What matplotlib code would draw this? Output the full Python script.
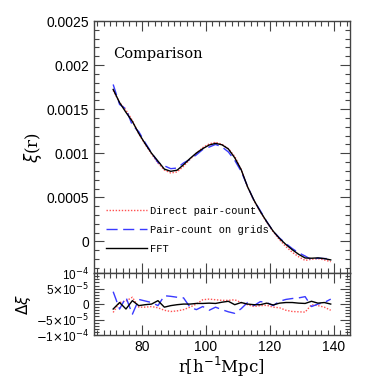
import matplotlib
matplotlib.use("Agg")
import matplotlib.pyplot as plt
import numpy as np

# separations (h^-1 Mpc)
r = [71, 73, 75, 77, 79, 81, 83, 85, 87, 89, 91, 93, 95, 97, 99, 101, 103,
     105, 107, 109, 111, 113, 115, 117, 119, 121, 123, 125, 127, 129, 131,
     133, 135, 137, 139]

# smooth correlation function
xi_base = [0.00174, 0.00157, 0.00148, 0.00135, 0.00123, 0.00111, 0.00100,
           0.00090, 0.00083, 0.00080, 0.00081, 0.00087, 0.00094, 0.00100,
           0.00105, 0.00109, 0.00111, 0.00109, 0.00104, 0.00095, 0.00081,
           0.00062, 0.00047, 0.00034, 0.00022, 0.00012, 0.00003, -0.00004,
           -0.00010, -0.00015, -0.00019, -0.00020, -0.00019, -0.00020,
           -0.00021]

# residuals (units of 1e-4)
d_direct = [-0.27, 0.05, 0.10, 0.22, -0.10, -0.10, -0.08, -0.12, -0.20, -0.24,
            -0.22, -0.18, -0.10, 0.00, 0.14, 0.16, 0.14, 0.12, 0.12, 0.14,
            0.05, -0.02, -0.08, -0.05, -0.04, -0.10, -0.12, -0.20, -0.24,
            -0.25, -0.26, -0.02, -0.05, -0.10, -0.20]
d_grid = [0.40, -0.16, 0.22, -0.33, 0.15, 0.10, 0.05, -0.05, 0.27, 0.25,
          0.22, 0.20, -0.10, -0.18, -0.08, -0.20, -0.10, -0.18, -0.25, -0.30,
          -0.15, 0.05, -0.05, 0.08, 0.05, -0.05, 0.09, 0.15, 0.18, 0.20,
          0.24, -0.08, 0.00, 0.05, 0.16]
d_fft = [-0.16, 0.05, -0.16, 0.11, -0.05, -0.02, 0.00, 0.11, -0.10, -0.05,
         -0.02, 0.00, 0.00, 0.02, 0.02, 0.03, 0.02, 0.06, 0.09, -0.02, 0.05,
         0.00, -0.02, -0.02, 0.03, -0.03, 0.03, 0.05, 0.05, 0.03, 0.02, 0.09,
         0.03, 0.05, 0.00]

labels = ['Direct pair-count', 'Pair-count on grids', 'FFT']
colors = ['#ff5050', '#3a3aff', 'black']
styles = [(0, (1, 1.2)), (0, (8, 4)), '-']

r = np.array(r)
xi_base = np.array(xi_base)
resid = [np.array(d) * 1e-4 for d in (d_direct, d_grid, d_fft)]

serif = 'DejaVu Serif'
plt.rcParams['font.family'] = 'Liberation Sans'
axcol = '#444444'

fig = plt.figure(figsize=(3.82, 3.82), dpi=100)
ax1 = fig.add_axes([0.246, 0.285, 0.670, 0.660])
ax2 = fig.add_axes([0.246, 0.123, 0.670, 0.162])

for d, lab, c, ls in zip(resid, labels, colors, styles):
    ax1.plot(r, xi_base + d, color=c, ls=ls, lw=1.0, label=lab)
    ax2.plot(r, d, color=c, ls=ls, lw=1.0)

for ax in (ax1, ax2):
    ax.set_xlim(65, 145)
    ax.set_xticks([80, 100, 120, 140])
    ax.set_xticks(np.arange(66, 145, 2), minor=True)
    ax.tick_params(which='both', direction='in', top=True, right=True,
                   color=axcol, labelsize=10, width=0.8)
    ax.tick_params(which='major', length=7)
    ax.tick_params(which='minor', length=3.5)
    for s in ax.spines.values():
        s.set_color(axcol)
        s.set_linewidth(1.0)

ax1.set_ylim(-0.00036, 0.0025)
ax1.set_yticks([0, 0.0005, 0.001, 0.0015, 0.002, 0.0025])
ax1.set_yticklabels(['0', '0.0005', '0.001', '0.0015', '0.002', '0.0025'])
ax1.set_yticks(np.arange(-0.0003, 0.00251, 0.0001), minor=True)
ax1.tick_params(labelbottom=False)
ax1.set_ylabel(r'$\xi$(r)', family=serif, fontsize=12, labelpad=2)
ax1.text(0.075, 0.855, 'Comparison', transform=ax1.transAxes,
         family=serif, fontsize=10.5)
ax1.legend(loc='lower left', bbox_to_anchor=(0.01, 0.04), frameon=False,
           prop={'family': 'Liberation Mono', 'size': 7.5},
           handlelength=3.9, handletextpad=0.3, labelspacing=0.85)

ax2.set_ylim(-1e-4, 1e-4)
ax2.set_yticks([1e-4, 5e-5, 0, -5e-5, -1e-4])
ax2.set_yticklabels([r'10$^{-4}$', r'5$\times$10$^{-5}$', '0',
                     r'$-$5$\times$10$^{-5}$', r'$-$1$\times$10$^{-4}$'])
ax2.set_yticks(np.arange(-1e-4, 1.01e-4, 1e-5), minor=True)
ax2.tick_params(axis='y', labelsize=8.5)
ax2.set_ylabel(r'$\Delta\xi$', family=serif, fontsize=11, labelpad=2)
ax2.set_xlabel(r'r[h$^{-1}$Mpc]', family=serif, fontsize=12, labelpad=1)

fig.savefig('out.png', dpi=100)
